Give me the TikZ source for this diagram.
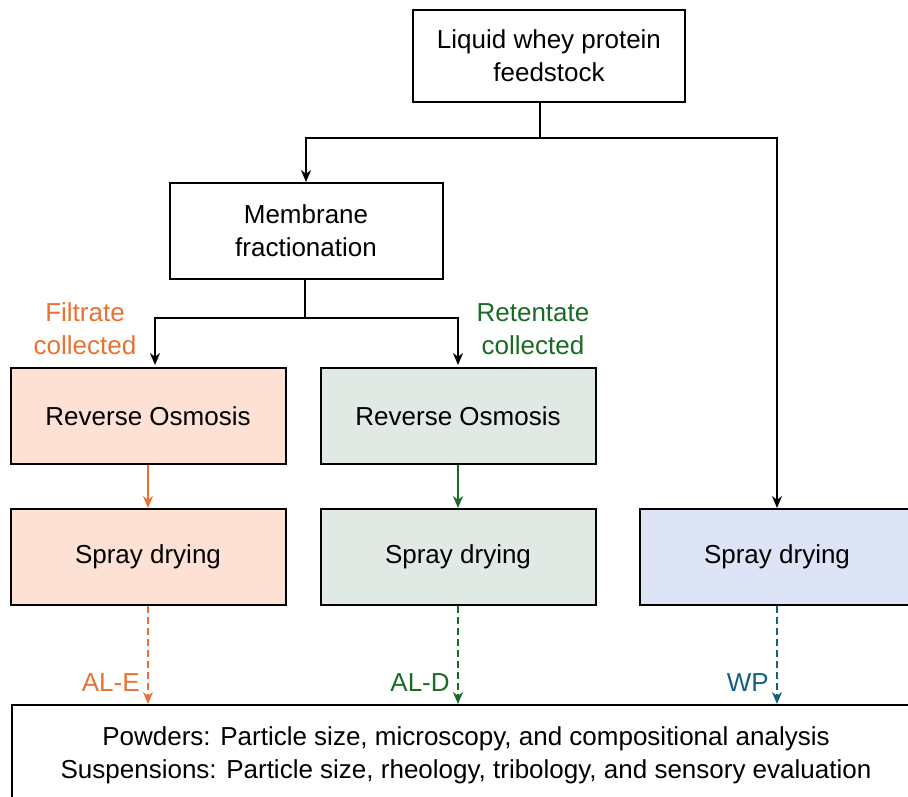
\documentclass[tikz,border=0pt]{standalone}
\usepackage{fontspec}
\setmainfont{Liberation Sans}
\usetikzlibrary{arrows.meta, positioning}
\definecolor{filtorange}{HTML}{E97132}
\definecolor{retgreen}{HTML}{196B24}
\definecolor{wpblue}{HTML}{155F82}
\definecolor{peachfill}{HTML}{FDE1D4}
\definecolor{sagefill}{HTML}{E1E9E5}
\definecolor{bluefill}{HTML}{DDE4F5}
\tikzset{
  stage/.style={draw, line width=2pt, align=center, inner sep=0pt,
    minimum width=275pt, minimum height=96pt, font=\fontsize{26}{33}\selectfont},
  flow/.style={line width=2pt, -{Stealth[length=12pt, width=10pt]}},
  link/.style={line width=2pt},
  product/.style={flow, dashed, dash pattern=on 7pt off 4pt},
  tag/.style={align=center, font=\fontsize{26}{33}\selectfont}
}
\begin{document}
\begin{tikzpicture}[x=1pt, y=-1pt]
\useasboundingbox (0,0) rectangle (908,797);
%% feed and membrane
  \node[stage, minimum width=272pt, minimum height=92pt] (feed) at (549,56) {Liquid whey protein\\feedstock};
  \node[stage, minimum width=273pt] (memb) at (306,231) {Membrane\\fractionation};
%% reverse osmosis
  \node[stage, fill=peachfill] (roE) at (148,416) {Reverse Osmosis};
  \node[stage, fill=sagefill] (roD) at (458,416) {Reverse Osmosis};
%% spray drying
  \node[stage, fill=peachfill] (sdE) at (148,557) {Spray drying};
  \node[stage, fill=sagefill] (sdD) at (458,557) {Spray drying};
  \node[stage, fill=bluefill] (sdW) at (777,557) {Spray drying};
%% analysis
  \node[stage, minimum width=908pt, minimum height=100pt] (analysis) at (466,755)
    {Powders: Particle size, microscopy, and compositional analysis\\
     Suspensions: Particle size, rheology, tribology, and sensory evaluation};
%% split points
  \coordinate (feedsplit) at (540,138);
  \coordinate (membsplit) at (305,318);
  \coordinate (hitE) at (155,365);
  \coordinate (hitD) at (458,365);
%% labels
  \node[tag, text=filtorange] (filtrate) at (85,329) {Filtrate\\collected};
  \node[tag, text=retgreen] (retentate) at (533,329) {Retentate\\collected};
%% connectors
  \draw[link] (feed.south -| feedsplit) -- (feedsplit);
  \draw[flow] (feedsplit) -| (memb.north);
  \draw[flow] (feedsplit) -| (sdW.north);
  \draw[link] (memb.south -| membsplit) -- (membsplit);
  \draw[flow] (membsplit) -| (hitE);
  \draw[flow] (membsplit) -| (hitD);
  \draw[flow, filtorange, line width=1.6pt] (roE.south) -- (sdE.north);
  \draw[flow, retgreen, line width=1.6pt] (roD.south) -- (sdD.north);
%% products
  \draw[product, filtorange] (sdE.south) -- (analysis.north -| sdE.south)
    node[pos=0.78, left=4pt, tag] (ale) {AL-E};
  \draw[product, retgreen] (sdD.south) -- (analysis.north -| sdD.south)
    node[pos=0.78, left=4pt, tag] (ald) {AL-D};
  \draw[product, wpblue] (sdW.south) -- (analysis.north -| sdW.south)
    node[pos=0.78, left=4pt, tag] (wp) {WP};
\end{tikzpicture}
\end{document}
